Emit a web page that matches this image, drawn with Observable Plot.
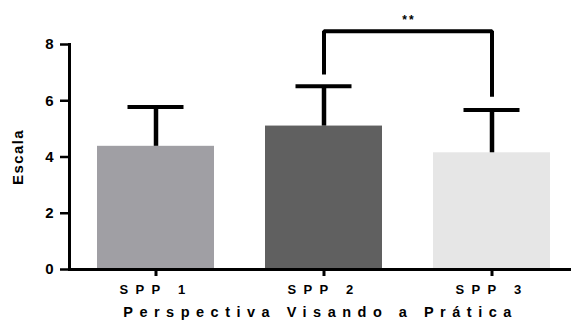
<!DOCTYPE html>
<html>
<head>
<meta charset="utf-8">
<script src="https://cdn.jsdelivr.net/npm/d3@7"></script>
<script src="https://cdn.jsdelivr.net/npm/@observablehq/plot@0.6"></script>
<style>
  html, body { margin: 0; padding: 0; background: #fff; }
  #chart svg { font-family: "Liberation Sans", Arial, Helvetica, sans-serif; font-weight: bold; }
  #chart g[aria-label="y-axis tick label"] text { font-size: 15px; }
  #chart g[aria-label="x-axis tick label"] text { font-size: 13px; letter-spacing: 7.3px; }
  #chart g[aria-label="x-axis label"] text { font-size: 14.5px; letter-spacing: 6.5px; }
  #chart g[aria-label="y-axis label"] text { font-size: 15px; letter-spacing: 1.4px; }
  #chart g[aria-label="text"] text { font-size: 12px; letter-spacing: 2px; }
</style>
</head>
<body>
<div id="chart"></div>
<script>
// ---- data ----
const categories = ["SPP 1", "SPP 2", "SPP 3"];
const means = [4.38, 5.10, 4.15];
const errors = [1.40, 1.42, 1.52];
const barColors = ["#a09fa4", "#606060", "#e6e6e6"];
const yTicks = [0, 2, 4, 6, 8];
const sigPair = ["SPP 2", "SPP 3"];
const sigLegBottoms = [6.93, 6.14];
const sigTop = 8.47;
const sigLabel = "**";
const sigLabelY = 8.88;
const xLabel = "Perspectiva Visando a Prática";
const yLabel = "Escala";

const rows = categories.map((c, i) => ({cat: c, mean: means[i], top: means[i] + errors[i]}));
const bracket = [
  {cat: sigPair[0], y: sigLegBottoms[0]},
  {cat: sigPair[0], y: sigTop},
  {cat: sigPair[1], y: sigTop},
  {cat: sigPair[1], y: sigLegBottoms[1]}
];

const chart = Plot.plot({
  width: 571,
  height: 320,
  marginLeft: 69,
  marginRight: 0,
  marginTop: 44,
  marginBottom: 51,
  style: {background: "#fff", overflow: "visible"},
  x: {domain: categories, range: [96, 550], paddingInner: 0.305, paddingOuter: 0},
  y: {domain: [0, 8]},
  color: {domain: categories, range: barColors},
  marks: [
    Plot.barY(rows, {x: "cat", y: "mean", fill: "cat"}),
    Plot.ruleX(rows, {x: "cat", y1: "mean", y2: "top", stroke: "#000", strokeWidth: 4.5}),
    Plot.tickY(rows, {x: "cat", y: "top", stroke: "#000", strokeWidth: 4, insetLeft: 30.5, insetRight: 30.5}),
    Plot.line(bracket, {x: "cat", y: "y", stroke: "#000", strokeWidth: 4, strokeLinejoin: "miter", strokeLinecap: "butt"}),
    Plot.text([sigLabel], {x: () => sigPair[0], y: () => sigLabelY, text: d => d, dx: 85, fontWeight: "bold", fill: "#000"}),
    Plot.frame({anchor: "left", stroke: "#000", strokeWidth: 3}),
    Plot.ruleY([0], {stroke: "#000", strokeWidth: 3}),
    Plot.axisY({ticks: yTicks, tickSize: 9, tickPadding: 7, strokeWidth: 2.5, fontWeight: "bold",
      label: yLabel, labelAnchor: "center", labelArrow: "none", labelOffset: 57}),
    Plot.axisX({tickSize: 7, tickPadding: 8, strokeWidth: 3, fontWeight: "bold",
      label: xLabel, labelAnchor: "center", labelArrow: "none", labelOffset: 47})
  ]
});
document.getElementById("chart").appendChild(chart);
</script>
</body>
</html>
